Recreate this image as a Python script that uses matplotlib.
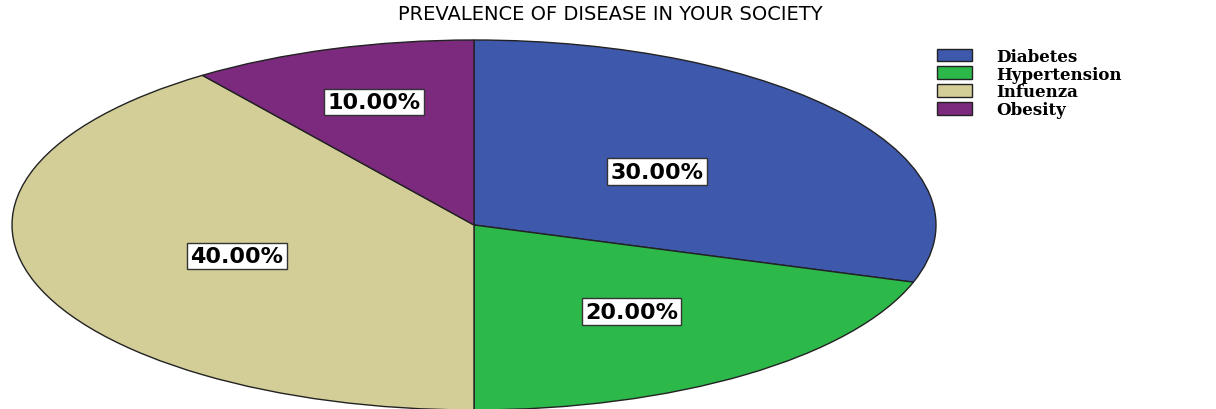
import numpy as np
import matplotlib.pyplot as plt

diseases = ['Diabetes', 'Hypertension', 'Infuenza', 'Obesity']
shares = [30, 20, 40, 10]
colors = ['#3E58AC', '#2DB84A', '#D3CE97', '#7B2A7D']
label_radius = [0.49, 0.58, 0.54, 0.70]

fig = plt.figure(figsize=(12.16, 4.10), dpi=100)
# axes stretched so the pie becomes a wide ellipse like the original
ax = fig.add_axes([12 / 1216, -1 / 410, 924 / 1216, 370 / 410])

wedges, _ = ax.pie(shares, colors=colors, startangle=90, counterclock=False,
                   wedgeprops=dict(edgecolor='#222222', linewidth=1.0))
ax.set_aspect('auto')
ax.set_xlim(-1, 1)
ax.set_ylim(-1, 1)

for w, share, r in zip(wedges, shares, label_radius):
    mid = np.deg2rad((w.theta1 + w.theta2) / 2)
    ax.text(r * np.cos(mid), r * np.sin(mid), f'{share:.2f}%',
            ha='center', va='center', fontsize=16, fontweight='bold',
            family='DejaVu Sans',
            bbox=dict(boxstyle='square,pad=0.15', facecolor='white',
                      edgecolor='#333333', linewidth=1.0))

fig.text(610 / 1216, 1 - 15 / 410, 'PREVALENCE OF DISEASE IN YOUR SOCIETY',
         ha='center', va='center', fontsize=14, family='DejaVu Sans')

fig.legend(wedges, diseases, loc='upper left', bbox_to_anchor=(925 / 1216, 1 - 37 / 410),
           frameon=False, prop=dict(family='DejaVu Serif', weight='bold', size=12),
           handlelength=2.1, handleheight=0.78, handletextpad=1.5, labelspacing=0.05,
           borderpad=0.2)

fig.savefig('out.png', dpi=100)
